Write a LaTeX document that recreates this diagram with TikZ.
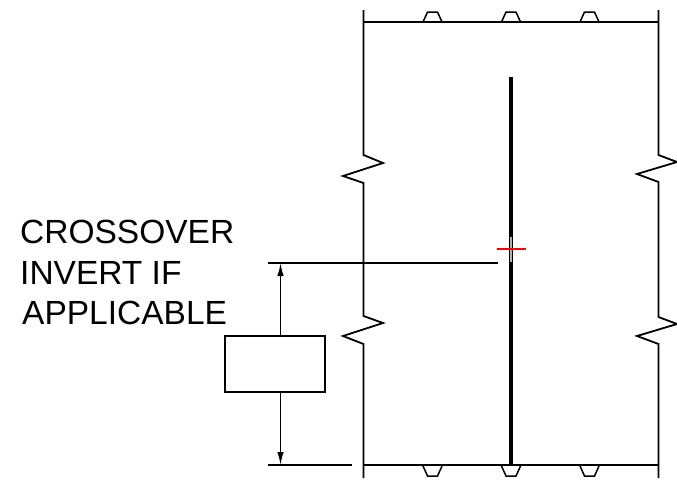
\documentclass[tikz,border=0pt]{standalone}
\usepackage{fontspec}
\setmainfont{Liberation Sans}
\usetikzlibrary{arrows.meta}
\begin{document}
\begin{tikzpicture}[x=1pt,y=-1pt,
  wall/.style={line width=1.8pt,line join=miter},
  slab/.style={line width=2.4pt},
  leader/.style={line width=1.8pt},
  dim/.style={line width=1.6pt,-{Latex[length=13pt,width=6.5pt]}},
  label/.style={anchor=base west,font=\fontsize{33.5}{33.5}\selectfont,inner sep=0pt},
  flute/.pic={\draw[line width=1.5pt] (-9.5,0) -- (-5,-10) -- (5,-10) -- (9.5,0);}]
\useasboundingbox (0,0) rectangle (677,480);
\draw[wall] (363.5,10) -- (363.5,155) -- (383,163) -- (343,176) -- (363.5,183) -- (363.5,316) -- (383,323) -- (343,336) -- (363.5,344) -- (363.5,478);
\draw[wall] (658.5,10) -- (658.5,155) -- (677,162) -- (637,174) -- (658.5,182) -- (658.5,317) -- (677,324) -- (637,336) -- (658.5,344) -- (658.5,478);
\draw[slab] (363.5,22) -- (658.5,22);
\draw[slab] (363.5,465) -- (658.5,465);
\foreach \x in {432.5,511,589.5} {
  \pic at (\x,22) {flute};
  \pic[yscale=-1] at (\x,466) {flute};
}
\draw[line width=4.5pt] (511,77) -- (511,465);
\draw[line width=1.6pt,gray!60] (511,237) -- (511,262);
\draw[line width=1.8pt,red] (497,249) -- (526,249);
\coordinate (ltop) at (268,263);
\coordinate (lend) at (498,263);
\coordinate (btop) at (268,465);
\coordinate (bend) at (352,465);
\coordinate (atop) at (280.5,263);
\coordinate (abot) at (280.5,465);
\draw[leader] (ltop) -- (lend);
\draw[leader] (btop) -- (bend);
\node[draw,line width=1.6pt,minimum width=100pt,minimum height=56pt,inner sep=0pt,outer sep=0pt] (box) at (275,364) {};
\draw[dim] (box.north -| atop) -- (atop);
\draw[dim] (box.south -| abot) -- (abot);
\node[label] (t1) at (20,243) {CROSSOVER};
\node[label] (t2) at (20,284) {INVERT IF};
\node[label] (t3) at (22,324) {APPLICABLE};
\end{tikzpicture}
\end{document}
